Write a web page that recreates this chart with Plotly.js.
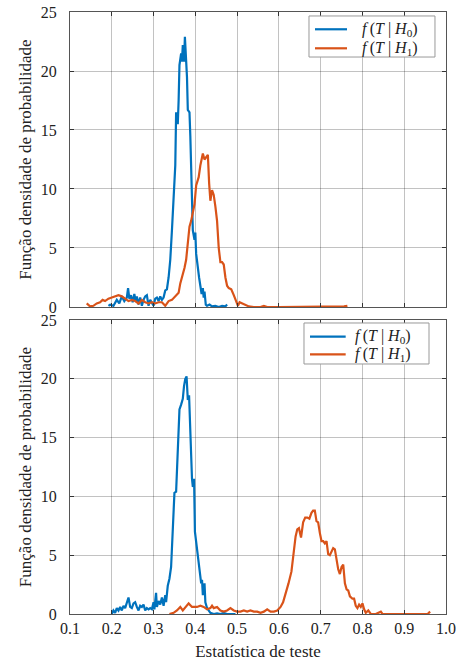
<!DOCTYPE html>
<html>
<head>
<meta charset="utf-8">
<script src="https://cdn.plot.ly/plotly-3.0.1.min.js"></script>
<style>html,body{margin:0;padding:0;background:#fff;}#chart{width:456px;height:664px;}</style>
</head>
<body>
<div id="chart"></div>
<script>
// ---- Top panel, H0 ----
const topH0X = [0.192,0.196,0.204,0.212,0.218,0.224,0.230,0.236,0.239,0.242,0.246,0.250,0.254,0.257,0.260,0.264,0.268,0.272,0.276,0.280,0.284,0.288,0.292,0.296,0.300,0.304,0.308,0.312,0.316,0.320,0.324,0.328,0.332,0.336,0.340,0.344,0.348,0.352,0.354,0.358,0.360,0.362,0.366,0.368,0.370,0.373,0.375,0.378,0.380,0.382,0.386,0.388,0.391,0.394,0.398,0.400,0.402,0.406,0.409,0.412,0.415,0.418,0.420,0.422,0.425,0.428,0.434,0.440,0.448,0.456,0.464,0.472,0.476];
const topH0Y = [0.1,0.2,0.1,0.6,0.3,0.9,0.5,0.8,1.6,0.7,1.0,0.4,1.1,0.5,0.9,0.2,0.8,0.1,0.6,0.9,1.0,0.1,0.6,0.4,0.1,0.7,0.8,0.5,0.9,0.6,0.8,1.4,1.5,2.5,4.0,6.5,9.0,12.0,16.5,15.5,17.5,20.5,21.5,20.8,22.2,20.8,22.9,21.0,19.5,16.7,16.5,14.5,10.5,6.5,5.7,6.3,4.5,3.0,2.5,1.8,1.1,1.6,0.8,1.3,0.2,0.1,0.2,0.05,0.1,0.0,0.1,0.05,0.2];
// ---- Top panel, H1 ----
const topH1X = [0.140,0.148,0.156,0.164,0.172,0.178,0.184,0.192,0.200,0.208,0.216,0.224,0.232,0.240,0.248,0.256,0.264,0.272,0.280,0.288,0.296,0.304,0.312,0.320,0.328,0.336,0.344,0.352,0.360,0.364,0.368,0.374,0.378,0.382,0.386,0.390,0.394,0.398,0.402,0.408,0.412,0.416,0.418,0.422,0.426,0.430,0.433,0.436,0.440,0.444,0.448,0.452,0.456,0.460,0.464,0.468,0.472,0.476,0.480,0.486,0.492,0.497,0.502,0.506,0.512,0.520,0.528,0.540,0.556,0.564,0.572,0.600,0.650,0.700,0.740,0.756,0.764];
const topH1Y = [0.3,0.05,0.1,0.3,0.4,0.6,0.5,0.7,0.8,0.9,1.0,0.9,0.7,0.5,0.6,0.5,0.3,0.6,0.4,0.3,0.4,0.3,0.4,0.4,0.1,0.5,0.6,0.9,1.2,2.0,2.5,3.3,4.0,5.5,6.8,7.3,7.9,8.7,10.3,11.0,12.0,12.9,13.0,12.5,12.7,12.9,10.5,9.0,9.9,9.5,8.5,7.3,5.0,3.8,3.8,3.6,2.5,1.8,1.6,1.5,1.0,0.5,0.1,0.4,0.3,0.2,0.05,0.0,0.0,0.1,0.0,0.0,0.0,0.0,0.0,0.05,0.1];
// ---- Bottom panel, H0 ----
const botH0X = [0.200,0.204,0.208,0.212,0.216,0.220,0.224,0.228,0.232,0.236,0.240,0.244,0.248,0.252,0.256,0.260,0.264,0.268,0.272,0.276,0.280,0.284,0.288,0.292,0.296,0.300,0.302,0.306,0.308,0.312,0.316,0.320,0.324,0.328,0.330,0.334,0.338,0.342,0.346,0.350,0.354,0.358,0.362,0.366,0.370,0.373,0.376,0.379,0.382,0.385,0.388,0.392,0.394,0.397,0.399,0.402,0.406,0.410,0.414,0.416,0.418,0.422,0.424,0.428,0.432,0.436,0.444,0.452,0.460,0.468,0.476,0.496];
const botH0Y = [0.0,0.3,0.1,0.5,0.3,0.6,0.3,0.7,0.5,1.0,1.4,0.6,0.5,0.9,1.0,0.6,0.3,0.7,0.6,0.8,0.3,0.5,0.4,0.5,0.4,1.0,0.4,1.8,0.6,1.1,0.8,1.4,0.7,1.6,1.0,2.4,3.0,4.0,7.0,10.3,10.4,14.0,17.4,17.8,18.3,19.4,20.0,20.2,18.2,18.6,15.0,11.5,10.8,11.5,7.0,6.2,5.0,3.8,2.6,2.9,1.6,2.6,1.0,0.5,0.3,0.1,0.0,0.05,0.0,0.1,0.0,0.0];
// ---- Bottom panel, H1 ----
const botH1X = [0.338,0.348,0.356,0.364,0.370,0.376,0.384,0.392,0.396,0.404,0.412,0.420,0.428,0.436,0.440,0.444,0.452,0.460,0.468,0.476,0.484,0.492,0.500,0.508,0.516,0.524,0.532,0.540,0.548,0.556,0.564,0.572,0.580,0.588,0.596,0.604,0.610,0.617,0.623,0.630,0.636,0.640,0.644,0.648,0.653,0.658,0.663,0.668,0.673,0.678,0.682,0.686,0.690,0.694,0.698,0.702,0.706,0.710,0.714,0.718,0.722,0.726,0.730,0.734,0.738,0.742,0.746,0.750,0.754,0.758,0.762,0.766,0.770,0.776,0.780,0.784,0.788,0.792,0.796,0.800,0.804,0.808,0.814,0.820,0.832,0.840,0.844,0.848,0.876,0.916,0.956,0.962];
const botH1Y = [0.0,0.1,0.3,0.6,0.3,0.6,0.9,0.6,0.6,0.6,0.7,0.6,0.4,0.5,0.7,0.5,0.6,0.3,0.2,0.3,0.5,0.3,0.2,0.2,0.3,0.2,0.3,0.2,0.2,0.1,0.2,0.4,0.2,0.2,0.3,0.6,1.0,1.8,2.6,3.6,5.3,6.6,7.2,7.3,6.5,7.8,8.2,8.2,8.1,8.6,8.8,8.8,7.9,7.8,6.9,6.2,6.2,6.0,6.2,5.1,5.0,5.3,5.6,5.5,4.6,3.8,3.4,4.0,4.2,2.6,2.1,2.0,1.5,1.3,1.3,0.7,0.5,0.8,0.6,0.9,0.4,0.1,0.3,0.0,0.0,0.1,0.2,0.0,0.0,0.0,0.0,0.2];

const xTicks = [0.1,0.2,0.3,0.4,0.5,0.6,0.7,0.8,0.9,1.0];
const xTickText = ['0.1','0.2','0.3','0.4','0.5','0.6','0.7','0.8','0.9','1.0'];
const yTicks = [0,5,10,15,20,25];
const legendLabels = ['<i>f</i>\u2009(<i>T</i> | <i>H</i><sub>0</sub>)', '<i>f</i>\u2009(<i>T</i> | <i>H</i><sub>1</sub>)'];

const BLUE = '#0072BD', ORANGE = '#D95319';
const FONT = 'Liberation Serif';
const GRID = 'rgba(0,0,0,0.24)';

const traces = [
  {x: topH0X, y: topH0Y, xaxis: 'x2', yaxis: 'y2', type: 'scatter', mode: 'lines', name: legendLabels[0],
   line: {color: BLUE, width: 2.2}},
  {x: topH1X, y: topH1Y, xaxis: 'x2', yaxis: 'y2', type: 'scatter', mode: 'lines', name: legendLabels[1],
   line: {color: ORANGE, width: 2.2}},
  {x: botH0X, y: botH0Y, xaxis: 'x', yaxis: 'y', type: 'scatter', mode: 'lines', name: legendLabels[0],
   line: {color: BLUE, width: 2.2}},
  {x: botH1X, y: botH1Y, xaxis: 'x', yaxis: 'y', type: 'scatter', mode: 'lines', name: legendLabels[1],
   line: {color: ORANGE, width: 2.2}}
];

const axisCommon = {
  showline: true, linecolor: '#555', linewidth: 1, mirror: 'ticks',
  showgrid: true, gridcolor: GRID, gridwidth: 1, zeroline: false,
  ticks: 'inside', ticklen: 4, tickcolor: '#333',
  tickfont: {family: FONT, size: 16, color: '#222'}
};

const yTitle = {text: 'Função densidade de probabilidade', font: {family: FONT, size: 17, color: '#222'}, standoff: 4};

// Legend boxes drawn in paper coordinates (box, line samples, labels)
function legendParts(box, lineX, lineY, textX) {
  const shapes = [
    {type: 'rect', xref: 'paper', yref: 'paper', x0: box[0], x1: box[1], y0: box[2], y1: box[3],
     fillcolor: '#fff', line: {color: '#999', width: 1}, layer: 'above'},
    {type: 'line', xref: 'paper', yref: 'paper', x0: lineX[0], x1: lineX[1], y0: lineY[0], y1: lineY[0],
     line: {color: BLUE, width: 2.2}, layer: 'above'},
    {type: 'line', xref: 'paper', yref: 'paper', x0: lineX[0], x1: lineX[1], y0: lineY[1], y1: lineY[1],
     line: {color: ORANGE, width: 2.2}, layer: 'above'}
  ];
  const annotations = [0, 1].map(i => ({
    xref: 'paper', yref: 'paper', x: textX, y: lineY[i], xanchor: 'left', yanchor: 'middle',
    text: legendLabels[i], showarrow: false, font: {family: FONT, size: 16, color: '#222'}
  }));
  return {shapes, annotations};
}
const legTop = legendParts([0.6356, 0.9707, 0.9252, 0.9934], [0.6516, 0.7367], [0.9713, 0.9397], 0.7713);
const legBot = legendParts([0.6223, 0.9548, 0.4153, 0.4834], [0.6383, 0.7332], [0.4606, 0.4314], 0.7527);

const layout = {
  width: 456, height: 664,
  margin: {l: 70, r: 10, t: 12, b: 50},
  paper_bgcolor: '#fff', plot_bgcolor: '#fff',
  font: {family: FONT, color: '#222'},
  showlegend: false,
  xaxis: Object.assign({}, axisCommon, {
    domain: [0, 1], anchor: 'y', range: [0.1, 1.0], tickvals: xTicks, ticktext: xTickText,
    title: {text: 'Estatística de teste', font: {family: FONT, size: 17, color: '#222'}, standoff: 8}
  }),
  yaxis: Object.assign({}, axisCommon, {
    domain: [0, 0.4884], anchor: 'x', range: [0, 25], tickvals: yTicks,
    ticklabelstandoff: 9, title: yTitle
  }),
  xaxis2: Object.assign({}, axisCommon, {
    domain: [0, 1], anchor: 'y2', range: [0.1, 1.0], tickvals: xTicks, showticklabels: false
  }),
  yaxis2: Object.assign({}, axisCommon, {
    domain: [0.51, 1.0], anchor: 'x2', range: [0, 25], tickvals: yTicks,
    ticklabelstandoff: 9, title: yTitle
  }),
  shapes: legTop.shapes.concat(legBot.shapes),
  annotations: legTop.annotations.concat(legBot.annotations)
};

Plotly.newPlot('chart', traces, layout, {displayModeBar: false, staticPlot: true});
</script>
</body>
</html>
